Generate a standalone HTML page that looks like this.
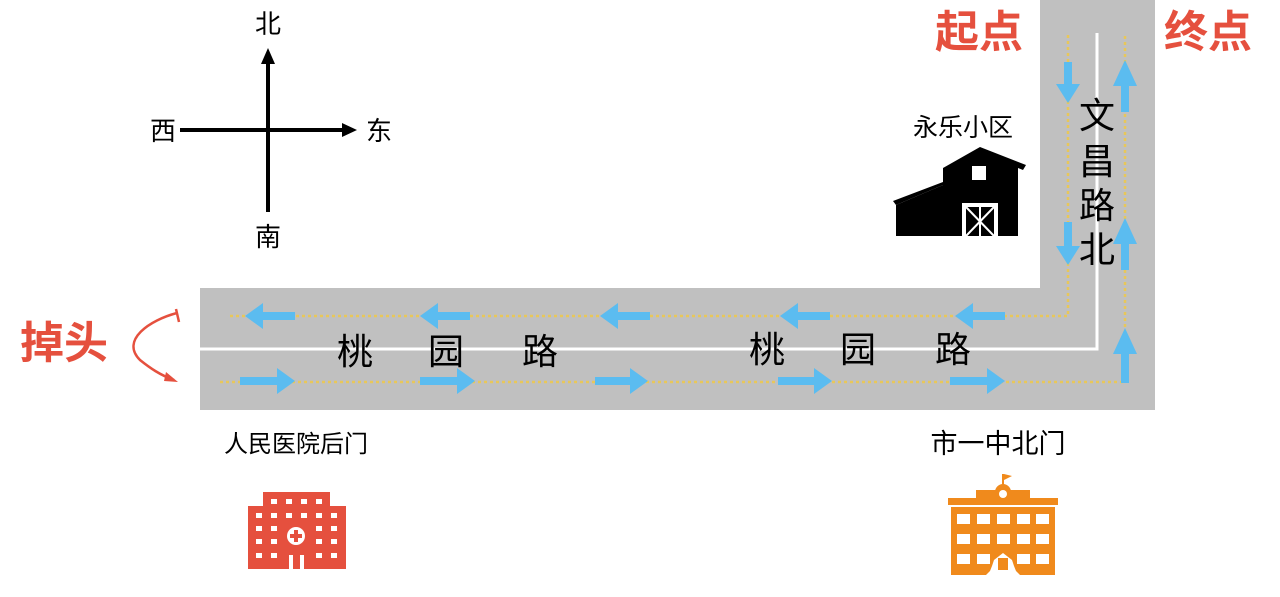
<!DOCTYPE html>
<html><head><meta charset="utf-8"><style>
body{margin:0;background:#fff;}
svg{display:block}
text{font-family:"Liberation Sans","Noto Sans CJK SC",sans-serif;}
</style></head><body>
<svg width="1280" height="597" viewBox="0 0 1280 597" xmlns="http://www.w3.org/2000/svg">
<rect x="200" y="288" width="955" height="122" fill="#c0c0c0"/>
<rect x="1040" y="0" width="115" height="410" fill="#c0c0c0"/>
<polyline points="200,349 1097,349 1097,33" fill="none" stroke="#fff" stroke-width="3"/>
<g fill="none" stroke="#e8c75a" stroke-width="2.5" stroke-dasharray="3,3">
<polyline points="230,316 1068,316 1068,33"/>
<polyline points="220,382 1125,382 1125,33"/>
</g>
<g fill="#5bbcf0">
<polygon points="245,316 263,303 263,312 295,312 295,320 263,320 263,329"/>
<polygon points="420,316 438,303 438,312 470,312 470,320 438,320 438,329"/>
<polygon points="600,316 618,303 618,312 650,312 650,320 618,320 618,329"/>
<polygon points="780,316 798,303 798,312 830,312 830,320 798,320 798,329"/>
<polygon points="955,316 973,303 973,312 1005,312 1005,320 973,320 973,329"/>
<polygon points="295,381 277,368 277,377 240,377 240,385 277,385 277,394"/>
<polygon points="475,381 457,368 457,377 420,377 420,385 457,385 457,394"/>
<polygon points="648,381 630,368 630,377 595,377 595,385 630,385 630,394"/>
<polygon points="832,381 814,368 814,377 778,377 778,385 814,385 814,394"/>
<polygon points="1005,381 987,368 987,377 950,377 950,385 987,385 987,394"/>
<polygon points="1068,103 1056,84 1064,84 1064,62 1072,62 1072,84 1080,84"/>
<polygon points="1068,265 1056,246 1064,246 1064,222 1072,222 1072,246 1080,246"/>
<polygon points="1125,60 1113,86 1121,86 1121,112 1129,112 1129,86 1137,86"/>
<polygon points="1125,218 1113,244 1121,244 1121,270 1129,270 1129,244 1137,244"/>
<polygon points="1125,328 1113,354 1121,354 1121,383 1129,383 1129,354 1137,354"/>
</g>
<g font-size="36" fill="#000" text-anchor="middle">
<text x="355" y="364">桃</text><text x="446" y="364">园</text><text x="540" y="364">路</text>
<text x="767" y="362">桃</text><text x="858" y="362">园</text><text x="953" y="362">路</text>
<text x="1097" y="128">文</text><text x="1097" y="174">昌</text><text x="1097" y="218">路</text><text x="1097" y="262">北</text>
</g>
<g font-size="44" fill="#e5503e" font-weight="bold">
<text x="935" y="47">起点</text>
<text x="1164" y="47">终点</text>
<text x="20" y="358">掉头</text>
</g>
<path d="M177,313 C150,320 120,340 140,360 C150,368 160,375 174,380" fill="none" stroke="#e5503e" stroke-width="2.5"/>
<line x1="176" y1="309" x2="179" y2="322" stroke="#e5503e" stroke-width="2.5"/>
<polygon points="178,382 166,372 164,381" fill="#e5503e"/>
<g stroke="#000" stroke-width="4">
<line x1="268" y1="62" x2="268" y2="212"/>
<line x1="180" y1="130" x2="344" y2="130"/>
</g>
<polygon points="268,48 261,64 275,64" fill="#000"/>
<polygon points="357,130 342,123 342,137" fill="#000"/>
<g font-size="26" fill="#000" text-anchor="middle">
<text x="268" y="33">北</text><text x="268" y="246">南</text>
<text x="163" y="140">西</text><text x="379" y="140">东</text>
</g>
<g fill="#000" text-anchor="middle">
<text x="963" y="136" font-size="25">永乐小区</text>
<text x="296" y="452" font-size="24">人民医院后门</text>
<text x="998" y="453" font-size="27">市一中北门</text>
</g>
<g fill="#000">
<polygon points="943,168 980,147 1026,165 1023,170 1018,168 1018,236 943,236 943,185 896,205 893,201 943,182"/>
<polygon points="943,185 896,205 896,236 943,236"/>
</g>
<rect x="972" y="166" width="14" height="14" fill="#fff"/>
<rect x="962" y="203" width="36" height="33" fill="#fff"/>
<rect x="966" y="207" width="28" height="29" fill="#000"/>
<g stroke="#fff" stroke-width="2"><line x1="966" y1="207" x2="994" y2="236"/><line x1="994" y1="207" x2="966" y2="236"/><line x1="980" y1="207" x2="980" y2="236"/></g>
<g fill="#e5503e">
<rect x="263" y="492" width="67" height="20"/>
<rect x="248" y="506" width="98" height="63"/>
</g>
<g fill="#fff">
<rect x="271" y="499" width="6" height="5"/><rect x="286" y="499" width="6" height="5"/><rect x="301" y="499" width="6" height="5"/><rect x="316" y="499" width="6" height="5"/>
<rect x="256" y="513" width="6" height="5"/><rect x="271" y="513" width="6" height="5"/><rect x="286" y="513" width="6" height="5"/><rect x="301" y="513" width="6" height="5"/><rect x="316" y="513" width="6" height="5"/><rect x="331" y="513" width="6" height="5"/>
<rect x="256" y="526" width="6" height="5"/><rect x="271" y="526" width="6" height="5"/><rect x="316" y="526" width="6" height="5"/><rect x="331" y="526" width="6" height="5"/>
<rect x="256" y="539" width="6" height="5"/><rect x="271" y="539" width="6" height="5"/><rect x="316" y="539" width="6" height="5"/><rect x="331" y="539" width="6" height="5"/>
<rect x="256" y="553" width="6" height="5"/><rect x="271" y="553" width="6" height="5"/><rect x="316" y="553" width="6" height="5"/><rect x="331" y="553" width="6" height="5"/>
<circle cx="296" cy="536" r="9"/><rect x="289" y="555" width="4" height="14"/><rect x="300" y="555" width="4" height="14"/>
</g>
<g fill="#e5503e"><rect x="294" y="530" width="4" height="12"/><rect x="290" y="534" width="12" height="4"/></g>
<g fill="#f08a1c">
<rect x="976" y="490" width="54" height="10"/>
<circle cx="1003" cy="492" r="8"/>
<rect x="1002" y="474" width="2" height="12"/>
<polygon points="1004,474 1012,476 1004,480"/>
<rect x="948" y="498" width="110" height="7"/>
<rect x="951" y="507" width="104" height="68"/>
</g>
<g fill="#fff">
<circle cx="1003" cy="494" r="4"/>
<rect x="957" y="514" width="13" height="10"/><rect x="977" y="514" width="13" height="10"/><rect x="997" y="514" width="13" height="10"/><rect x="1017" y="514" width="13" height="10"/><rect x="1036" y="514" width="13" height="10"/>
<rect x="957" y="534" width="13" height="10"/><rect x="977" y="534" width="13" height="10"/><rect x="997" y="534" width="13" height="10"/><rect x="1017" y="534" width="13" height="10"/><rect x="1036" y="534" width="13" height="10"/>
<rect x="957" y="554" width="13" height="10"/><rect x="977" y="554" width="13" height="10"/><rect x="1017" y="554" width="13" height="10"/><rect x="1036" y="554" width="13" height="10"/>
<polygon points="986,575 990,571 992,566 994,560 1003,553 1012,560 1014,566 1016,571 1020,575"/>
</g>
<rect x="998" y="558" width="10" height="12" fill="#f08a1c"/>
</svg>
</body></html>
